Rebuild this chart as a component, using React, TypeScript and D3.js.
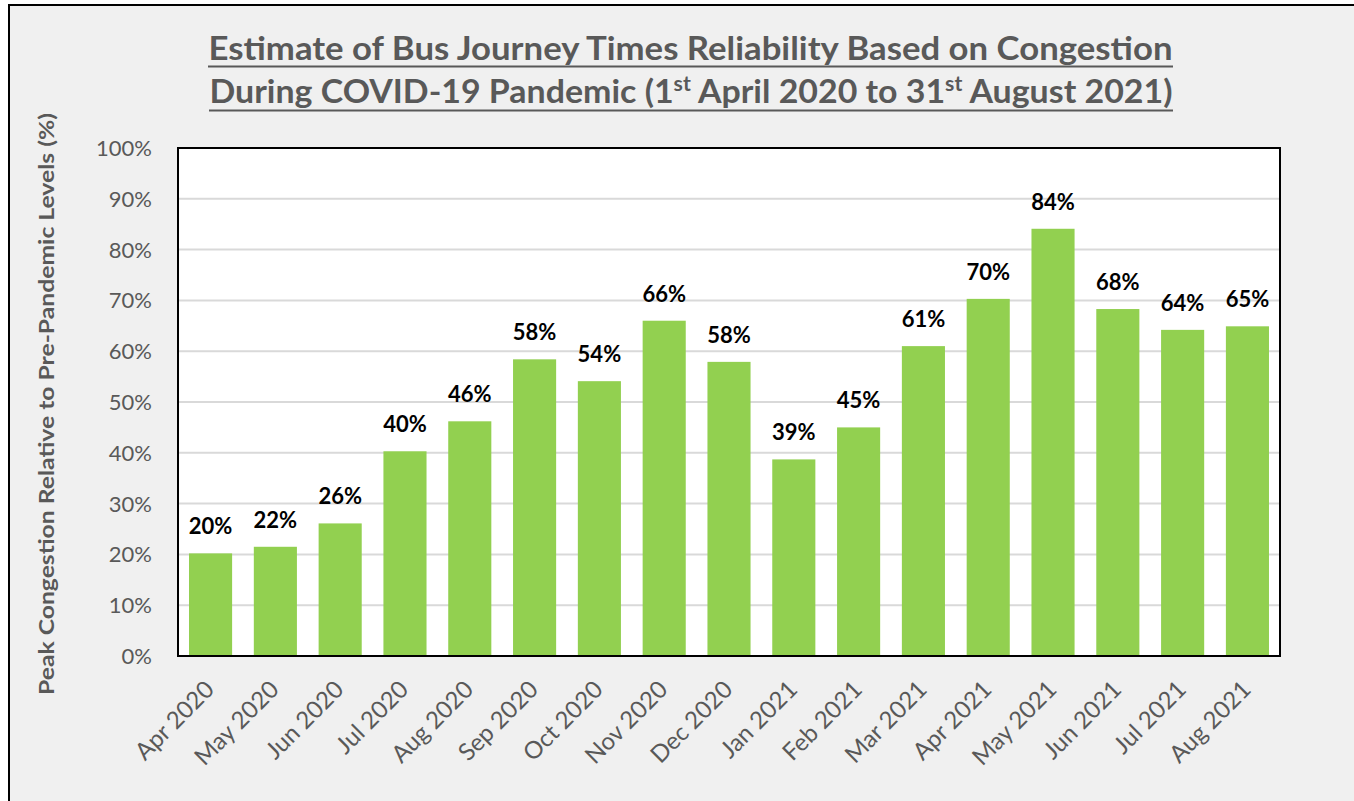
import * as d3 from "d3";
import React from "react";

const months = [
  "Apr 2020", "May 2020", "Jun 2020", "Jul 2020", "Aug 2020", "Sep 2020",
  "Oct 2020", "Nov 2020", "Dec 2020", "Jan 2021", "Feb 2021", "Mar 2021",
  "Apr 2021", "May 2021", "Jun 2021", "Jul 2021", "Aug 2021",
];
// peak congestion relative to pre-pandemic levels (fraction)
const congestion = [
  0.202, 0.215, 0.261, 0.403, 0.462, 0.584, 0.541, 0.66, 0.579, 0.387,
  0.45, 0.61, 0.703, 0.841, 0.683, 0.642, 0.649,
];
const yTicks = [0, 0.1, 0.2, 0.3, 0.4, 0.5, 0.6, 0.7, 0.8, 0.9, 1];

const titleLine1 = "Estimate of Bus Journey Times Reliability Based on Congestion";
const yTitle = "Peak Congestion Relative to Pre-Pandemic Levels (%)";

const W = 1354;
const H = 801;
const plot = { left: 178, right: 1280, top: 148, bottom: 656 };
const font = "Lato, 'Open Sans', sans-serif";
const grey = "#595959";

const App = () => {
  const x = d3
    .scaleBand<string>()
    .domain(months)
    .range([plot.left, plot.right])
    .paddingInner(0.335)
    .paddingOuter(0.17);

  const y = d3.scaleLinear().domain([0, 1]).range([plot.bottom, plot.top]);
  const pct = d3.format(".0%");

  return (
    <div style={{ position: "absolute", left: 0, top: 0 }}>
      <svg width={W} height={H} style={{ display: "block" }}>
        <rect x={0} y={0} width={W} height={H} fill="#ffffff" />
        <rect x={9} y={5} width={W + 10} height={H + 10} fill="#f0f0f0" stroke="#000" strokeWidth={2} />

        {/* title */}
        <g fill={grey} fontFamily={font} fontWeight="bold" fontSize={32} textAnchor="middle">
          <text x={690.5} y={60} textLength={964} lengthAdjust="spacingAndGlyphs">
            {titleLine1}
          </text>
          <text x={691} y={103} textLength={963} lengthAdjust="spacingAndGlyphs">
            During COVID-19 Pandemic (1
            <tspan fontSize={20} dy={-12}>st</tspan>
            <tspan dy={12}> April 2020 to 31</tspan>
            <tspan fontSize={20} dy={-12}>st</tspan>
            <tspan dy={12}> August 2021)</tspan>
          </text>
        </g>
        <line x1={208} x2={1173} y1={66.5} y2={66.5} stroke={grey} strokeWidth={2} />
        <line x1={209} x2={1173} y1={110.5} y2={110.5} stroke={grey} strokeWidth={2} />

        {/* plot area */}
        <rect
          x={plot.left}
          y={plot.top}
          width={plot.right - plot.left}
          height={plot.bottom - plot.top}
          fill="#ffffff"
        />
        {yTicks.slice(1, -1).map((t) => (
          <line
            key={t}
            x1={plot.left}
            x2={plot.right}
            y1={y(t)}
            y2={y(t)}
            stroke="#d9d9d9"
            strokeWidth={2}
          />
        ))}

        {months.map((m, i) => (
          <rect
            key={m}
            x={x(m)}
            y={y(congestion[i])}
            width={x.bandwidth()}
            height={y(0) - y(congestion[i])}
            fill="#92d050"
          />
        ))}

        <rect
          x={plot.left}
          y={plot.top}
          width={plot.right - plot.left}
          height={plot.bottom - plot.top}
          fill="none"
          stroke="#000"
          strokeWidth={2}
        />

        {/* data labels */}
        <g fontFamily={font} fontWeight="bold" fontSize={22} textAnchor="middle" fill="#000">
          {months.map((m, i) => (
            <text key={m} x={(x(m) ?? 0) + x.bandwidth() / 2} y={y(congestion[i]) - 19}>
              {pct(congestion[i])}
            </text>
          ))}
        </g>

        {/* y axis tick labels */}
        <g fontFamily={font} fontSize={22} textAnchor="end" fill={grey}>
          {yTicks.map((t) => (
            <text key={t} x={152} y={y(t)} dy="0.36em">
              {pct(t)}
            </text>
          ))}
        </g>

        {/* x axis labels */}
        <g fontFamily={font} fontSize={24} textAnchor="end" fill={grey}>
          {months.map((m) => {
            const cx = (x(m) ?? 0) + x.bandwidth() / 2;
            return (
              <text key={m} transform={`translate(${cx + 5},${691}) rotate(-45)`}>
                {m}
              </text>
            );
          })}
        </g>

        {/* y axis title */}
        <text
          transform={`translate(54,404) rotate(-90)`}
          textAnchor="middle"
          fontFamily={font}
          fontWeight="bold"
          fontSize={21}
          fill={grey}
          textLength={582}
          lengthAdjust="spacingAndGlyphs"
        >
          {yTitle}
        </text>
      </svg>
    </div>
  );
};

export default App;
